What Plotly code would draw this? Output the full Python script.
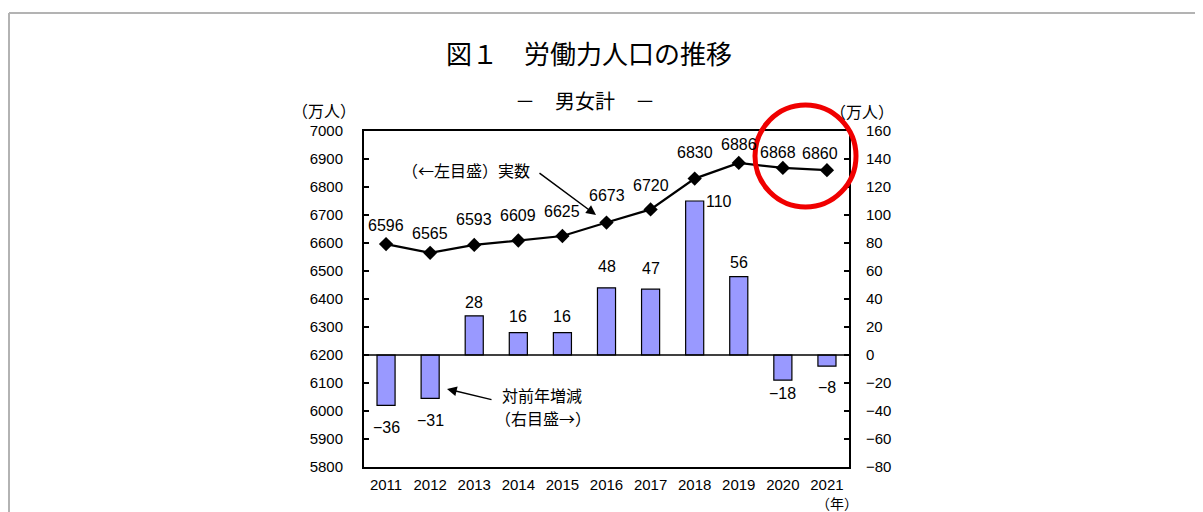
import plotly.graph_objects as go

years = [2011, 2012, 2013, 2014, 2015, 2016, 2017, 2018, 2019, 2020, 2021]
labor_force = [6596, 6565, 6593, 6609, 6625, 6673, 6720, 6830, 6886, 6868, 6860]
yoy_change = [-36, -31, 28, 16, 16, 48, 47, 110, 56, -18, -8]

left_ticks = list(range(5800, 7001, 100))
right_ticks = list(range(-80, 161, 20))

# label offsets (styling only)
line_label_dy = [19, 19, 25, 25, 25, 27, 24, 26, 18, 15, 17]
line_label_dx = [0, 0, 0, 0, 0, 0, 0, 0, 0, -5, -7]
bar_label_dy = [22, 22, 13, 16, 16, 21, 21, 0, 14, 13, 21]
bar_label_dx = [0, 0, 0, 0, 0, 0, 0, 24, 0, 0, 0]

OFF = 8  # page body margin
W, H = 1203 - 2 * OFF, 512 - OFF
# plot area in page pixels
L, R, T, B = 364, 849, 131, 467
Lf, Rf, Tf, Bf = L - OFF, R - OFF, T - OFF, B - OFF


def px(x):
    return (x - L) / (R - L)


def py(y):
    return (B - y) / (B - T)


JP = "Noto Sans CJK JP"
NUM = "Liberation Sans, Arial, sans-serif"

fig = go.Figure()
fig.add_trace(go.Bar(
    x=years, y=yoy_change, yaxis="y2",
    marker=dict(color="#9999ff", line=dict(color="#000000", width=1.2)),
    width=0.41, hoverinfo="skip", showlegend=False,
))
fig.add_trace(go.Scatter(
    x=years, y=labor_force, yaxis="y", mode="lines+markers",
    line=dict(color="#000000", width=2.2),
    marker=dict(symbol="diamond", size=11, color="#000000"),
    hoverinfo="skip", showlegend=False,
))

annotations = []
for i, (yr, v) in enumerate(zip(years, labor_force)):
    annotations.append(dict(x=yr, y=v, xref="x", yref="y", text=str(v), showarrow=False,
                            yshift=line_label_dy[i], xshift=line_label_dx[i],
                            font=dict(family=NUM, size=16, color="#000")))
for i, (yr, v) in enumerate(zip(years, yoy_change)):
    txt = str(v) if v >= 0 else "\u2212" + str(-v)
    dy = bar_label_dy[i] if v >= 0 else -bar_label_dy[i]
    annotations.append(dict(x=yr, y=v, xref="x", yref="y2", text=txt, showarrow=False,
                            yshift=dy, xshift=bar_label_dx[i],
                            font=dict(family=NUM, size=16, color="#000")))


def ptext(x, y, text, size, family=JP, align="center", xanchor="center"):
    annotations.append(dict(x=px(x), y=py(y), xref="paper", yref="paper", text=text,
                            showarrow=False, xanchor=xanchor, yanchor="middle", align=align,
                            borderpad=0,
                            font=dict(family=family, size=size, color="#000")))


ptext(589, 53, "図１　労働力人口の推移", 26)
ptext(585, 100, "－　男女計　－", 20)
ptext(324, 110, "（万人）", 16)
ptext(862, 111, "（万人）", 16)
ptext(837, 503, "（年）", 14)
ptext(466, 170, "（←左目盛）実数", 16)
ptext(501, 395, "対前年増減", 16, xanchor="left")
ptext(494, 418, "（右目盛→）", 16, xanchor="left")

# arrows
annotations.append(dict(x=px(596), y=py(215), xref="paper", yref="paper", text="",
                        showarrow=True, ax=538 - 596, ay=172 - 215, arrowhead=2, arrowsize=1.3,
                        arrowwidth=1.5, arrowcolor="#000"))
annotations.append(dict(x=px(447), y=py(389), xref="paper", yref="paper", text="",
                        showarrow=True, ax=493 - 447, ay=400 - 389, arrowhead=2, arrowsize=1.3,
                        arrowwidth=1.5, arrowcolor="#000"))

shapes = [
    dict(type="line", xref="paper", yref="y2", x0=0, x1=1, y0=0, y1=0,
         line=dict(color="#000", width=1.5)),
    dict(type="circle", xref="paper", yref="paper", x0=px(755), x1=px(856), y0=py(207), y1=py(105),
         line=dict(color="#f00000", width=5)),
    dict(type="line", xref="paper", yref="paper", x0=px(9), x1=px(1210), y0=py(13), y1=py(13),
         line=dict(color="#b3b3b3", width=2)),
    dict(type="line", xref="paper", yref="paper", x0=px(9), x1=px(9), y0=py(13), y1=py(530),
         line=dict(color="#b3b3b3", width=2)),
]

fig.update_layout(
    width=W, height=H,
    margin=dict(l=Lf, r=W - Rf, t=Tf, b=H - Bf, pad=0, autoexpand=False),
    paper_bgcolor="#ffffff", plot_bgcolor="#ffffff",
    xaxis=dict(range=[2010.5, 2021.5], tickvals=years, ticktext=[str(y) for y in years],
               showline=True, linecolor="#000", linewidth=2, mirror=True, automargin=False,
               ticks="", showgrid=False, zeroline=False,
               tickfont=dict(family=NUM, size=15, color="#000"), ticklabelstandoff=3),
    yaxis=dict(range=[5800, 7000], tickvals=left_ticks, showline=True, linecolor="#000",
               linewidth=2, ticks="inside", ticklen=5, tickwidth=1.5, tickcolor="#000",
               showgrid=False, zeroline=False, automargin=False,
               tickfont=dict(family=NUM, size=15, color="#000"), ticklabelstandoff=16),
    yaxis2=dict(range=[-80, 160], tickvals=right_ticks, overlaying="y", side="right",
                showline=True, linecolor="#000", linewidth=2, ticks="inside", ticklen=5,
                tickwidth=1.5, tickcolor="#000", showgrid=False, zeroline=False, automargin=False,
                tickfont=dict(family=NUM, size=15, color="#000"), ticklabelstandoff=12),
    annotations=annotations,
    shapes=shapes,
)

fig.write_html("out.html")
